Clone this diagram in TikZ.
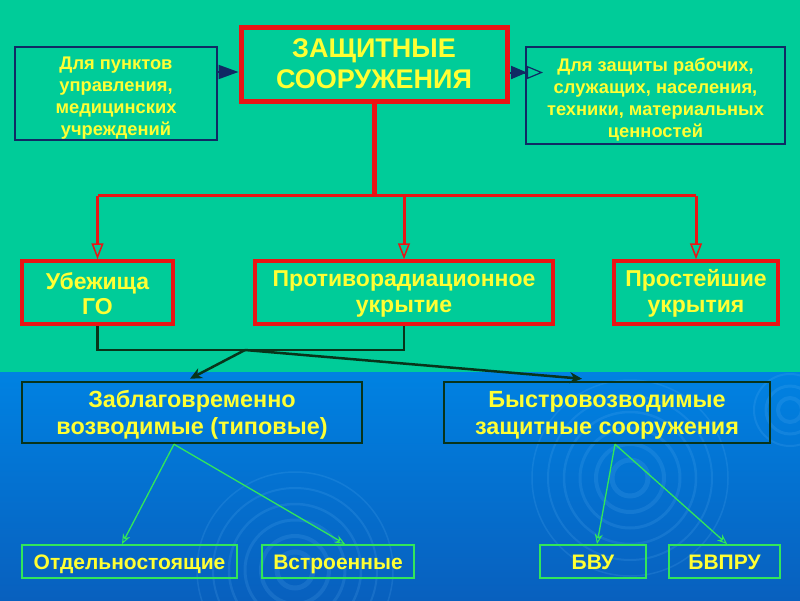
\documentclass[tikz,border=0pt]{standalone}
\usepackage{fontspec}
\setmainfont{Liberation Sans}
\usetikzlibrary{arrows.meta}
\definecolor{bggreen}{RGB}{0,204,153}
\definecolor{bgblueA}{RGB}{0,130,226}
\definecolor{bgblueB}{RGB}{8,96,190}
\definecolor{txtyellow}{RGB}{255,255,51}
\definecolor{navy}{RGB}{16,42,100}
\definecolor{boxred}{RGB}{235,20,20}
\definecolor{dkgreen}{RGB}{8,52,26}
\definecolor{brgreen}{RGB}{50,230,90}
\definecolor{ringblue}{RGB}{110,190,250}
\newcommand{\topstrut}[1]{\rule{0pt}{#1}}
\begin{document}
\begin{tikzpicture}[x=1pt,y=-1pt,
  txt/.style={text=txtyellow,font=\bfseries,align=center,inner sep=0pt},
  sidebox/.style={txt,draw=navy,line width=2pt,font=\bfseries\fontsize{18.3}{21.8}\selectfont},
  titlebox/.style={txt,draw=boxred,line width=5pt,font=\bfseries\fontsize{27}{31}\selectfont},
  kindbox/.style={txt,draw=boxred,line width=3.5pt,minimum height=63pt,font=\bfseries\fontsize{23}{25.5}\selectfont},
  groupbox/.style={txt,draw=dkgreen,line width=2.5pt,minimum height=61pt,font=\bfseries\fontsize{23.4}{27}\selectfont},
  leafbox/.style={txt,draw=brgreen,line width=2pt,minimum height=33pt,text height=16pt,text depth=0pt,font=\bfseries\fontsize{21}{24}\selectfont},
  navyarrow/.style={navy,line width=2pt},
  redtrunk/.style={boxred,line width=5pt},
  redline/.style={boxred,line width=3pt},
  redarrow/.style={boxred,line width=3pt,-{Triangle[open,length=16pt,width=12pt,line width=1.5pt]}},
  darkline/.style={dkgreen,line width=2.5pt},
  darkarrow/.style={dkgreen,line width=2.5pt,-{Stealth[length=12pt,width=11pt]}},
  greenarrow/.style={brgreen,line width=1.3pt,-{Stealth[open,length=10pt,width=8pt,line width=1pt]}},
  ring/.style={ringblue,opacity=0.15}
]
\useasboundingbox (0,0) rectangle (800,600);
% background
\fill[bggreen] (0,0) rectangle (800,372);
\shade[top color=bgblueA,bottom color=bgblueB] (0,372) rectangle (800,600);
% decorative rings
\begin{scope}
\clip (0,372) rectangle (800,600);
\foreach \r/\w in {18/5,34/4,50/3,66/2.5,82/2,98/1.5}{
  \draw[ring,line width=\w pt] (630,478) circle (\r);
  \draw[ring,line width=\w pt] (295,570) circle (\r);
}
\foreach \r/\w in {12/4,24/3,36/2}{
  \draw[ring,line width=\w pt] (790,410) circle (\r);
}
\end{scope}

% nodes
\node[titlebox,minimum width=266pt,minimum height=74pt] (title) at (374,64) {ЗАЩИТНЫЕ\\СООРУЖЕНИЯ};
\node[sidebox,minimum width=202pt,minimum height=93pt] (left) at (116,93.5) {\topstrut{22pt}Для пунктов\\управления,\\медицинских\\учреждений};
\node[sidebox,minimum width=259pt,minimum height=97pt] (right) at (655.5,95.5) {\topstrut{22pt}Для защиты рабочих,\\служащих, населения,\\техники, материальных\\ценностей};

\node[kindbox,minimum width=151pt] (ubezh) at (97.5,292.5) {\topstrut{19pt}Убежища\\ГО};
\node[kindbox,minimum width=298pt] (protivo) at (404,292.5) {\topstrut{19pt}Противорадиационное\\укрытие};
\node[kindbox,minimum width=164pt] (prost) at (696,292.5) {\topstrut{19pt}Простейшие\\укрытия};

\node[groupbox,minimum width=340pt] (zabl) at (192,412.5) {\topstrut{22pt}Заблаговременно\\возводимые (типовые)};
\node[groupbox,minimum width=326pt] (bystro) at (607,412.5) {\topstrut{22pt}Быстровозводимые\\защитные сооружения};

\node[leafbox,minimum width=215pt] (otd) at (129.5,561.5) {Отдельностоящие};
\node[leafbox,minimum width=152pt] (vstr) at (338,561.5) {Встроенные};
\node[leafbox,minimum width=106pt] (bvu) at (593,561.5) {БВУ};
\node[leafbox,minimum width=111pt] (bvpru) at (724.5,561.5) {БВПРУ};

% navy arrows to side boxes
\coordinate (aL) at ([yshift=21.5pt]left.east);
\draw[navyarrow,-{Triangle[length=20pt,width=14pt]}] (aL) -- (aL -| title.west);
\coordinate (aR) at ([yshift=-8.5pt]title.east);
\coordinate (aRend) at ([xshift=18pt]aR -| right.west);
\draw[navyarrow,-{Triangle[length=16pt,width=13pt] Triangle[open,length=16pt,width=13pt,line width=1.2pt]}] (aR) -- (aRend);

% red tree
\coordinate (hub) at ([yshift=-92pt]title.south);
\draw[redtrunk] (title.south) -- (hub);
\draw[redline] (ubezh.north |- hub) -- (prost.north |- hub);
\draw[redarrow] (ubezh.north |- hub) -- (ubezh.north);
\draw[redarrow] (protivo.north |- hub) -- (protivo.north);
\draw[redarrow] (prost.north |- hub) -- (prost.north);

% dark bracket and arrows
\coordinate (j) at (245,350);
\draw[darkline] (ubezh.south) -- (ubezh.south |- j) -- (protivo.south |- j) -- (protivo.south);
\draw[darkarrow] (j) -- ([xshift=-2pt,yshift=2pt]zabl.north);
\draw[darkarrow] (j) -- ([xshift=-25pt,yshift=2pt]bystro.north);

% green arrows
\coordinate (zs) at ([xshift=-18pt]zabl.south);
\coordinate (bs) at ([xshift=8pt]bystro.south);
\draw[greenarrow] (zs) -- ([xshift=-7.5pt]otd.north);
\draw[greenarrow] (zs) -- ([xshift=7pt]vstr.north);
\draw[greenarrow] (bs) -- ([xshift=4pt]bvu.north);
\draw[greenarrow] (bs) -- ([xshift=2.5pt]bvpru.north);
\end{tikzpicture}
\end{document}
